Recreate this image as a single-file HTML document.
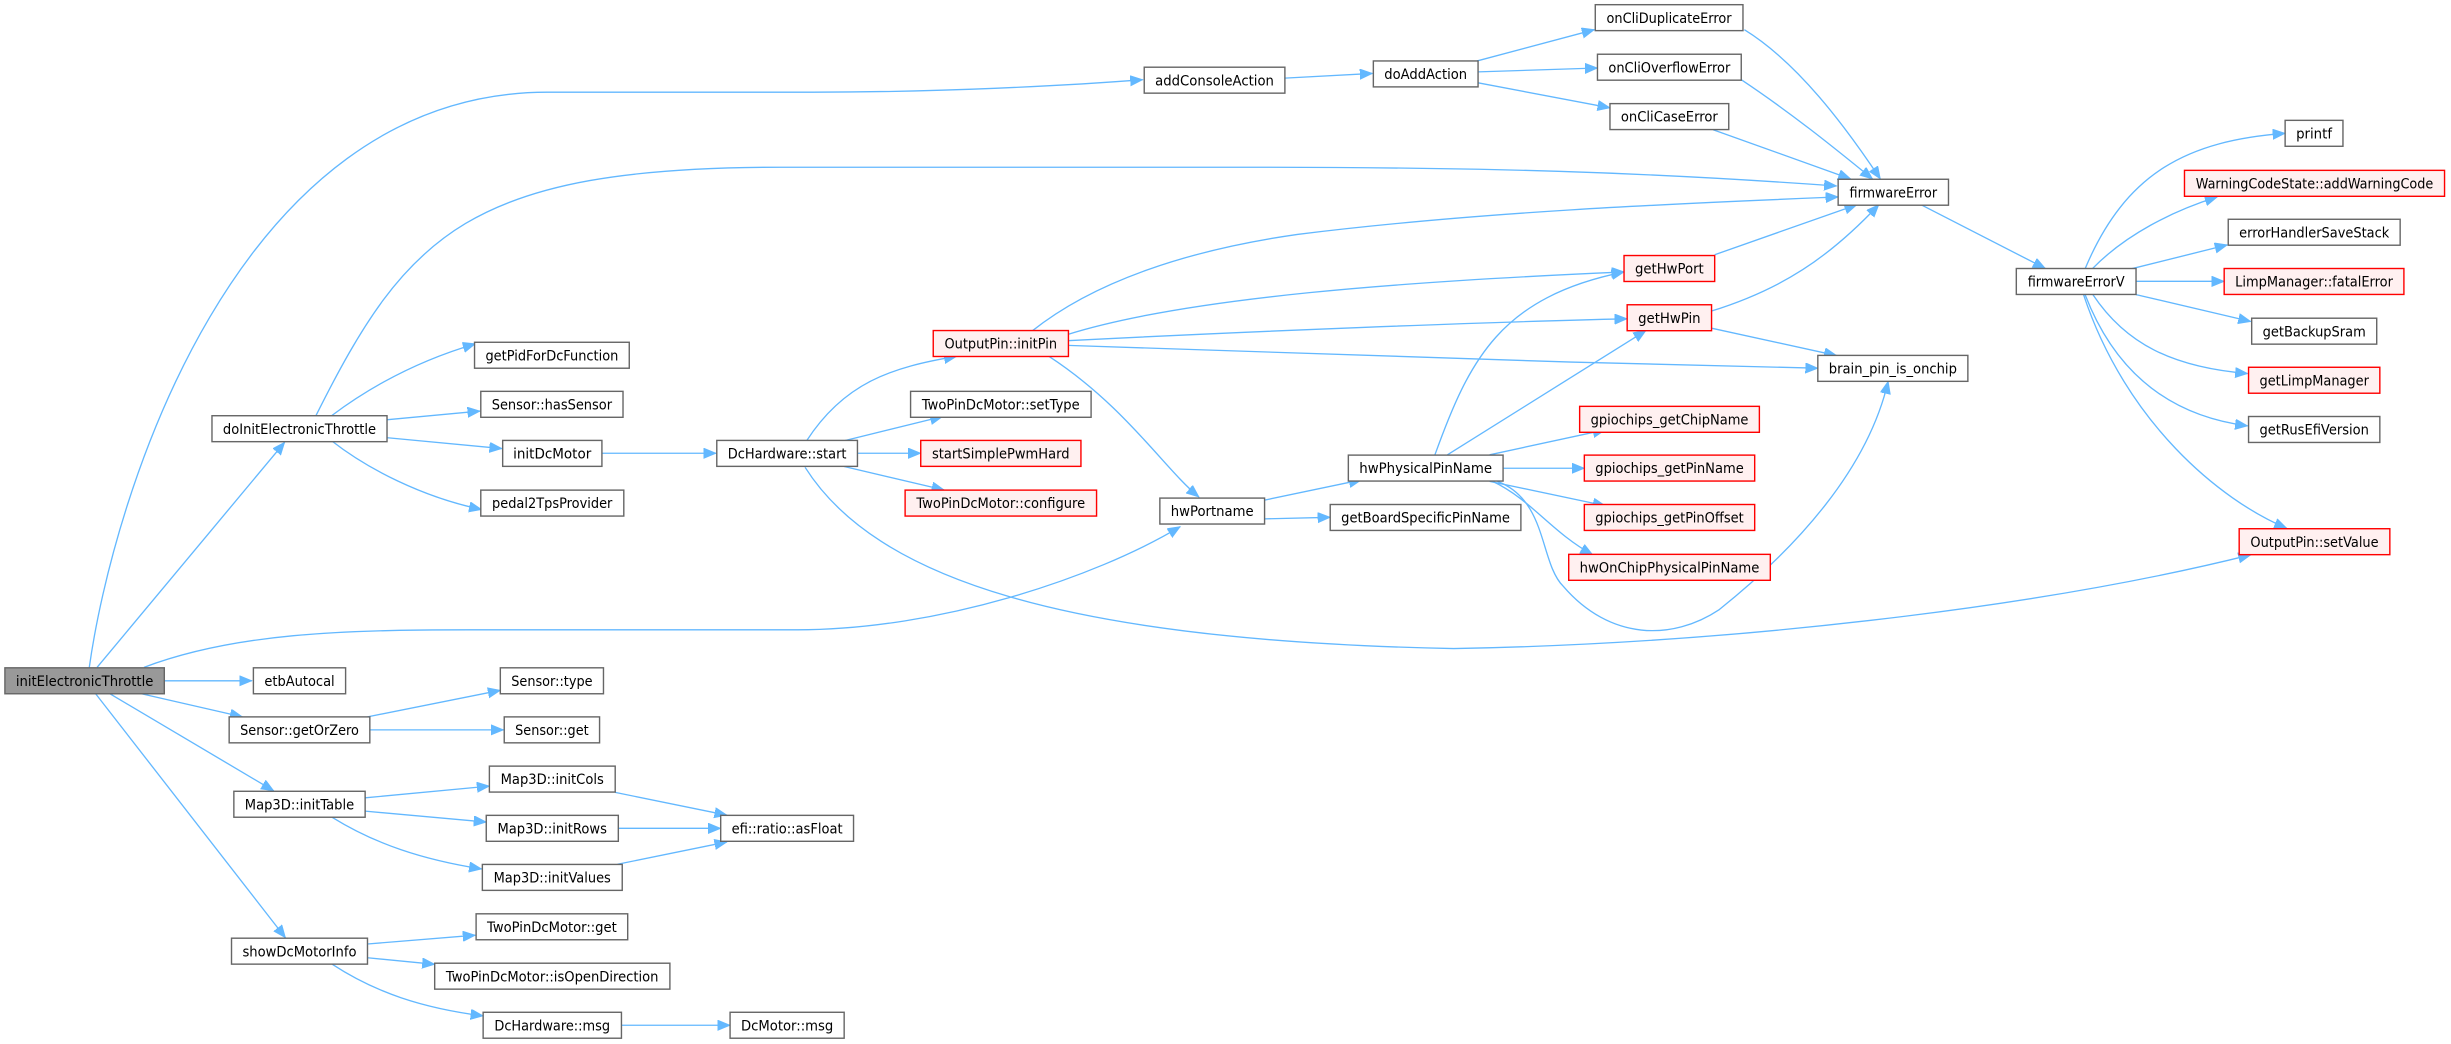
<!DOCTYPE html>
<html><head><meta charset="utf-8"><style>
html,body{margin:0;padding:0;background:#fff;}
svg{display:block;}
text{font-family:"DejaVu Sans","Liberation Sans",sans-serif;font-size:9px;fill:#000;}
.e{fill:none;stroke:#63b8ff;stroke-width:0.85;}
.n{fill:#fff;stroke:#666;stroke-width:0.9;}
.r{fill:#fff0f0;stroke:#ff0000;stroke-width:0.9;}
.g{fill:#999;stroke:#666;stroke-width:0.9;}
</style></head><body>
<svg width="2451" height="1044" viewBox="0 0 1568 668" xmlns="http://www.w3.org/2000/svg">
<defs><marker id="a" markerUnits="userSpaceOnUse" markerWidth="9" markerHeight="8" refX="8" refY="3.3" orient="auto"><path d="M0,0 L8,3.3 L0,6.6 Z" fill="#63b8ff" stroke="#63b8ff" stroke-width="0.5"/></marker></defs>
<g class="e" marker-end="url(#a)">
<path d="M57,427 C72,320 150,59 350,59 L520,59 C600,59 680,55 731,51"/>
<path d="M62,427 L182,283"/>
<path d="M202,266 C260,150 300,107 500,107 L800,107 C950,107 1050,110 1175,119"/>
<path d="M212,266 C240,245 270,230 304,220"/>
<path d="M247,268.6 L307,263"/>
<path d="M247,280 L321,287"/>
<path d="M212,282 C235,300 270,318 308,326"/>
<path d="M385,290 L458,290"/>
<path d="M516,282 C540,245 570,235 612,228"/>
<path d="M540,282 L603,266.5"/>
<path d="M548.5,290 L589,290"/>
<path d="M540,298.5 L604,313.5"/>
<path d="M515,299 C560,370 680,410 930,415 C1100,412 1300,390 1440,355"/>
<path d="M660,212 C700,180 760,160 830,150 C950,135 1080,130 1176,126"/>
<path d="M683,214 C760,190 900,180 1039,174"/>
<path d="M683,218 C800,212 950,206 1041,204"/>
<path d="M683,221 C800,226 1000,232 1163,235.6"/>
<path d="M671,228 C720,260 745,300 767,318"/>
<path d="M92,427 C150,405 220,403 300,403 L510,403 C600,403 700,370 755,337"/>
<path d="M809,320 L871,307"/>
<path d="M809,332 L851,331"/>
<path d="M918,291 C940,230 960,190 1039,174"/>
<path d="M926,291 L1053,211.5"/>
<path d="M953,291 L1027,275"/>
<path d="M961.6,299.6 L1013.6,299.6"/>
<path d="M953,308 L1027,323.6"/>
<path d="M955,308 C980,320 992,340 1019,355"/>
<path d="M958,308 C990,320 985,360 1000,375 C1030,410 1070,410 1100,390 C1150,350 1195,300 1208,244"/>
<path d="M1097,163 L1188,131"/>
<path d="M1095,199 C1140,185 1170,165 1202,131"/>
<path d="M1095,210 L1175,227.5"/>
<path d="M1116,19 C1150,40 1180,80 1203,114.5"/>
<path d="M1114,51 C1150,75 1180,100 1198,114.5"/>
<path d="M1096,83 L1184,114.5"/>
<path d="M822,50 L878,47"/>
<path d="M945,39 L1020,19"/>
<path d="M945.6,46 L1022,43.5"/>
<path d="M945.6,53 L1030,69"/>
<path d="M1229.6,131.3 L1308.6,171.8"/>
<path d="M1334,172 C1360,110 1400,90 1462,85.3"/>
<path d="M1338.6,172 C1360,150 1390,135 1418.6,126"/>
<path d="M1363.6,172 L1425,156.7"/>
<path d="M1366.6,180 L1423,180"/>
<path d="M1366.6,188.5 L1440,205.7"/>
<path d="M1339,188.5 C1360,220 1390,235 1438,239"/>
<path d="M1334,188.5 C1350,230 1380,265 1438,272.5"/>
<path d="M1333,188.5 C1360,270 1420,320 1463,338"/>
<path d="M105,435.6 L161,435.6"/>
<path d="M90,443.8 L155,458.7"/>
<path d="M70,443.8 L175,506"/>
<path d="M61,443.8 L182.5,600"/>
<path d="M235,458.7 L320,441.7"/>
<path d="M236.5,467 L322,467"/>
<path d="M233.5,510.5 L313,503"/>
<path d="M233.5,519 L311,526"/>
<path d="M212.5,523 C240,540 270,550 308,556"/>
<path d="M393.5,507 L465,521.6"/>
<path d="M395.5,530 L461,530"/>
<path d="M395,553 L465,538.7"/>
<path d="M235,604 L304,598.4"/>
<path d="M235,612.8 L278,617"/>
<path d="M212.5,617 C240,635 270,645 309,650"/>
<path d="M397.5,656 L467,656"/>
</g>
<g>
<rect class="g" x="3" y="427.3" width="102" height="16.6"/><text x="54" y="438.9" text-anchor="middle" textLength="88" lengthAdjust="spacingAndGlyphs">initElectronicThrottle</text>
<rect class="n" x="162" y="427.3" width="59" height="16.6"/><text x="191.5" y="438.9" text-anchor="middle" textLength="45" lengthAdjust="spacingAndGlyphs">etbAutocal</text>
<rect class="n" x="320" y="427.3" width="66" height="16.6"/><text x="353" y="438.9" text-anchor="middle" textLength="52" lengthAdjust="spacingAndGlyphs">Sensor::type</text>
<rect class="n" x="146.5" y="458.7" width="90" height="16.6"/><text x="191.5" y="470.3" text-anchor="middle" textLength="76" lengthAdjust="spacingAndGlyphs">Sensor::getOrZero</text>
<rect class="n" x="322.5" y="458.7" width="61" height="16.6"/><text x="353" y="470.3" text-anchor="middle" textLength="47" lengthAdjust="spacingAndGlyphs">Sensor::get</text>
<rect class="n" x="313" y="490.2" width="80.5" height="16.6"/><text x="353.2" y="501.8" text-anchor="middle" textLength="66" lengthAdjust="spacingAndGlyphs">Map3D::initCols</text>
<rect class="n" x="149.5" y="506.3" width="84" height="16.6"/><text x="191.5" y="517.9" text-anchor="middle" textLength="70" lengthAdjust="spacingAndGlyphs">Map3D::initTable</text>
<rect class="n" x="311" y="521.7" width="84.5" height="16.6"/><text x="353.2" y="533.3" text-anchor="middle" textLength="70" lengthAdjust="spacingAndGlyphs">Map3D::initRows</text>
<rect class="n" x="461" y="521.7" width="85" height="16.6"/><text x="503.5" y="533.3" text-anchor="middle" textLength="71" lengthAdjust="spacingAndGlyphs">efi::ratio::asFloat</text>
<rect class="n" x="308.5" y="553.1" width="89.5" height="16.6"/><text x="353.2" y="564.7" text-anchor="middle" textLength="75" lengthAdjust="spacingAndGlyphs">Map3D::initValues</text>
<rect class="n" x="304.5" y="584.7" width="97" height="16.6"/><text x="353" y="596.3" text-anchor="middle" textLength="83" lengthAdjust="spacingAndGlyphs">TwoPinDcMotor::get</text>
<rect class="n" x="148" y="600.3" width="87" height="16.6"/><text x="191.5" y="611.9" text-anchor="middle" textLength="73" lengthAdjust="spacingAndGlyphs">showDcMotorInfo</text>
<rect class="n" x="278" y="616.3" width="150.5" height="16.6"/><text x="353.2" y="627.9" text-anchor="middle" textLength="136" lengthAdjust="spacingAndGlyphs">TwoPinDcMotor::isOpenDirection</text>
<rect class="n" x="309" y="647.7" width="88.5" height="16.6"/><text x="353.2" y="659.3" text-anchor="middle" textLength="74" lengthAdjust="spacingAndGlyphs">DcHardware::msg</text>
<rect class="n" x="467" y="647.7" width="73" height="16.6"/><text x="503.5" y="659.3" text-anchor="middle" textLength="59" lengthAdjust="spacingAndGlyphs">DcMotor::msg</text>

<rect class="n" x="732" y="43" width="90" height="16.6"/><text x="777" y="54.6" text-anchor="middle" textLength="76" lengthAdjust="spacingAndGlyphs">addConsoleAction</text>
<rect class="n" x="135.5" y="266" width="112" height="16.6"/><text x="191.5" y="277.6" text-anchor="middle" textLength="98" lengthAdjust="spacingAndGlyphs">doInitElectronicThrottle</text>
<rect class="n" x="303.5" y="219" width="99" height="16.6"/><text x="353" y="230.6" text-anchor="middle" textLength="85" lengthAdjust="spacingAndGlyphs">getPidForDcFunction</text>
<rect class="n" x="307.5" y="250.4" width="91" height="16.6"/><text x="353" y="262" text-anchor="middle" textLength="77" lengthAdjust="spacingAndGlyphs">Sensor::hasSensor</text>
<rect class="n" x="321.5" y="281.8" width="63.5" height="16.6"/><text x="353.2" y="293.4" text-anchor="middle" textLength="50" lengthAdjust="spacingAndGlyphs">initDcMotor</text>
<rect class="n" x="307.5" y="313.6" width="91.5" height="16.6"/><text x="353.2" y="325.2" text-anchor="middle" textLength="77" lengthAdjust="spacingAndGlyphs">pedal2TpsProvider</text>
<rect class="n" x="458.5" y="281.8" width="90" height="16.6"/><text x="503.5" y="293.4" text-anchor="middle" textLength="76" lengthAdjust="spacingAndGlyphs">DcHardware::start</text>
<rect class="r" x="597" y="211.5" width="86.5" height="16.6"/><text x="640.2" y="223.1" text-anchor="middle" textLength="72" lengthAdjust="spacingAndGlyphs">OutputPin::initPin</text>
<rect class="n" x="582.5" y="250.4" width="115.5" height="16.6"/><text x="640.2" y="262" text-anchor="middle" textLength="101" lengthAdjust="spacingAndGlyphs">TwoPinDcMotor::setType</text>
<rect class="r" x="589" y="281.8" width="102.5" height="16.6"/><text x="640.2" y="293.4" text-anchor="middle" textLength="88" lengthAdjust="spacingAndGlyphs">startSimplePwmHard</text>
<rect class="r" x="579" y="313.6" width="122.5" height="16.6"/><text x="640.2" y="325.2" text-anchor="middle" textLength="108" lengthAdjust="spacingAndGlyphs">TwoPinDcMotor::configure</text>
<rect class="n" x="742" y="318.7" width="67" height="16.6"/><text x="775.5" y="330.3" text-anchor="middle" textLength="53" lengthAdjust="spacingAndGlyphs">hwPortname</text>

<rect class="n" x="1020.6" y="3" width="94.5" height="16.6"/><text x="1067.8" y="14.6" text-anchor="middle" textLength="80" lengthAdjust="spacingAndGlyphs">onCliDuplicateError</text>
<rect class="n" x="878.6" y="39" width="67" height="16.6"/><text x="912.1" y="50.6" text-anchor="middle" textLength="53" lengthAdjust="spacingAndGlyphs">doAddAction</text>
<rect class="n" x="1022" y="34.7" width="92" height="16.6"/><text x="1068" y="46.3" text-anchor="middle" textLength="78" lengthAdjust="spacingAndGlyphs">onCliOverflowError</text>
<rect class="n" x="1030" y="66.3" width="76" height="16.6"/><text x="1068" y="77.9" text-anchor="middle" textLength="62" lengthAdjust="spacingAndGlyphs">onCliCaseError</text>
<rect class="n" x="1176" y="114.7" width="70.6" height="16.6"/><text x="1211.3" y="126.3" text-anchor="middle" textLength="56" lengthAdjust="spacingAndGlyphs">firmwareError</text>
<rect class="n" x="1462" y="77" width="37" height="16.6"/><text x="1480.5" y="88.6" text-anchor="middle" textLength="23" lengthAdjust="spacingAndGlyphs">printf</text>
<rect class="r" x="1397.6" y="109" width="166.4" height="16.6"/><text x="1480.8" y="120.6" text-anchor="middle" textLength="152" lengthAdjust="spacingAndGlyphs">WarningCodeState::addWarningCode</text>
<rect class="n" x="1425.6" y="140.3" width="110" height="16.6"/><text x="1480.6" y="151.9" text-anchor="middle" textLength="96" lengthAdjust="spacingAndGlyphs">errorHandlerSaveStack</text>
<rect class="n" x="1290" y="171.8" width="76.6" height="16.6"/><text x="1328.3" y="183.4" text-anchor="middle" textLength="62" lengthAdjust="spacingAndGlyphs">firmwareErrorV</text>
<rect class="r" x="1423" y="171.8" width="115" height="16.6"/><text x="1480.5" y="183.4" text-anchor="middle" textLength="101" lengthAdjust="spacingAndGlyphs">LimpManager::fatalError</text>
<rect class="n" x="1440.6" y="203.6" width="80" height="16.6"/><text x="1480.6" y="215.2" text-anchor="middle" textLength="66" lengthAdjust="spacingAndGlyphs">getBackupSram</text>
<rect class="r" x="1438.6" y="235" width="84" height="16.6"/><text x="1480.6" y="246.6" text-anchor="middle" textLength="70" lengthAdjust="spacingAndGlyphs">getLimpManager</text>
<rect class="n" x="1438.6" y="266.5" width="84" height="16.6"/><text x="1480.6" y="278.1" text-anchor="middle" textLength="70" lengthAdjust="spacingAndGlyphs">getRusEfiVersion</text>
<rect class="r" x="1039" y="163.5" width="58" height="16.6"/><text x="1068" y="175.1" text-anchor="middle" textLength="44" lengthAdjust="spacingAndGlyphs">getHwPort</text>
<rect class="r" x="1041" y="195" width="54" height="16.6"/><text x="1068" y="206.6" text-anchor="middle" textLength="40" lengthAdjust="spacingAndGlyphs">getHwPin</text>
<rect class="n" x="1163" y="227.4" width="96" height="16.6"/><text x="1211" y="239" text-anchor="middle" textLength="82" lengthAdjust="spacingAndGlyphs">brain_pin_is_onchip</text>
<rect class="r" x="1010.6" y="260" width="115" height="16.6"/><text x="1068.1" y="271.6" text-anchor="middle" textLength="101" lengthAdjust="spacingAndGlyphs">gpiochips_getChipName</text>
<rect class="n" x="862.6" y="291.2" width="99" height="16.6"/><text x="912.1" y="302.8" text-anchor="middle" textLength="85" lengthAdjust="spacingAndGlyphs">hwPhysicalPinName</text>
<rect class="r" x="1013.6" y="291.2" width="109" height="16.6"/><text x="1068.1" y="302.8" text-anchor="middle" textLength="95" lengthAdjust="spacingAndGlyphs">gpiochips_getPinName</text>
<rect class="r" x="1013.6" y="322.8" width="109" height="16.6"/><text x="1068.1" y="334.4" text-anchor="middle" textLength="95" lengthAdjust="spacingAndGlyphs">gpiochips_getPinOffset</text>
<rect class="n" x="851" y="322.8" width="122" height="16.6"/><text x="912" y="334.4" text-anchor="middle" textLength="108" lengthAdjust="spacingAndGlyphs">getBoardSpecificPinName</text>
<rect class="r" x="1432.6" y="338.3" width="96.4" height="16.6"/><text x="1480.8" y="349.9" text-anchor="middle" textLength="82" lengthAdjust="spacingAndGlyphs">OutputPin::setValue</text>
<rect class="r" x="1003.6" y="354.7" width="129" height="16.6"/><text x="1068.1" y="366.3" text-anchor="middle" textLength="115" lengthAdjust="spacingAndGlyphs">hwOnChipPhysicalPinName</text>
</g>
</svg>
</body></html>
